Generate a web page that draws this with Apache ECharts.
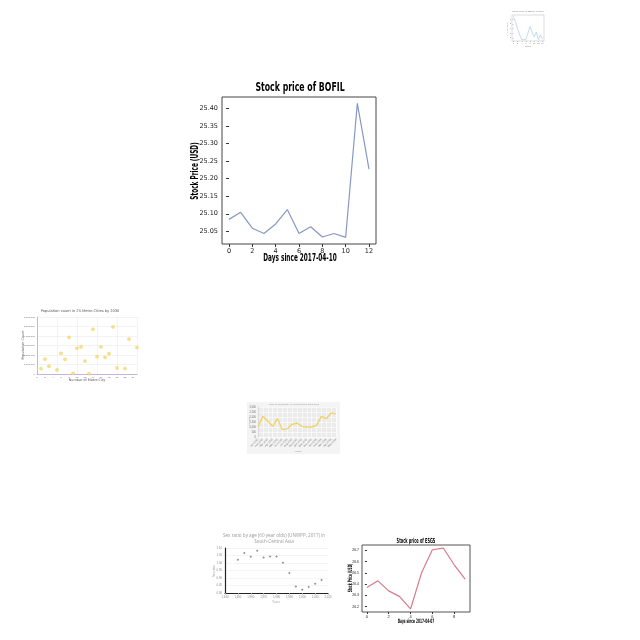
<!DOCTYPE html>
<html><head><meta charset="utf-8">
<script src="https://cdn.jsdelivr.net/npm/echarts@6/dist/echarts.min.js"></script>
<style>html,body{margin:0;padding:0;background:#fff}#c{width:640px;height:640px}</style>
</head><body><div id="c"></div>
<script>
// ---- data ----
const bofilDays = [0,1,2,3,4,5,6,7,8,9,10,11,12];
const bofilPrices = [25.084,25.104,25.059,25.044,25.071,25.112,25.044,25.063,25.034,25.044,25.033,25.414,25.227];
const bofilYTicks = [25.05,25.10,25.15,25.20,25.25,25.30,25.35,25.40];
const bofilXTicks = [0,2,4,6,8,10,12];

const esgsDays = [0,1,2,3,4,5,6,7,8,9];
const esgsPrices = [26.370,26.429,26.340,26.289,26.179,26.498,26.706,26.721,26.572,26.444];
const esgsYTicks = [26.2,26.3,26.4,26.5,26.6,26.7];
const esgsXTicks = [0,2,4,6,8];

const miniDays = [0,1,2,3,4,5,6,7,8,9,10,11,12,13,14];
const miniValues = [9.6,8.4,6.9,5.6,4.6,4.6,4.6,6.0,7.4,6.2,5.2,6.2,4.6,5.6,4.7];

const popCity = [1,2,3,5,6,7,8,9,10,11,12,13,14,15,16,17,18,19,20,22,23,25];
const popCount = [570000,1570000,820000,430000,2180000,1540000,3860000,70000,2710000,2860000,1360000,40000,4710000,1820000,2860000,1750000,2140000,4960000,640000,570000,3680000,2790000];

const sexYears = [1950,1955,1960,1965,1970,1975,1980,1985,1990,1995,2000,2005,2010,2015];
const sexRatio = [1.022,1.067,1.042,1.082,1.036,1.044,1.044,1.002,0.933,0.844,0.822,0.840,0.862,0.887];

const yellowLabels = ['Jan 2015','Feb 2015','Mar 2015','Apr 2015','May 2015','Jun 2015','Jul 2015','Aug 2015','Sep 2015','Oct 2015','Nov 2015','Dec 2015','Jan 2016','Feb 2016','Mar 2016','Apr 2016','May 2016'];
const yellowValues = [1000,2067,1600,1067,1833,733,833,1267,1400,1067,1000,1000,1167,2067,1833,2400,2333];

// ---- chart ----
const chart = echarts.init(document.getElementById('c'), null, {renderer:'canvas'});
const heavy = "'DejaVu Sans', sans-serif";
function txt(x,y,text,font,fill,rot,sx){
  return {type:'text', x:x, y:y, rotation: rot||0, scaleX: sx||1,
    style:{text:text, font:font, fill:fill||'#000', textAlign:'center', textVerticalAlign:'middle'}};
}
const option = {
  animation:false,
  backgroundColor:'#fff',
  grid:[
    {left:222, top:97, width:154, height:147, show:true, borderColor:'#444', borderWidth:1, containLabel:false},
    {left:512, top:15, width:32, height:26, show:true, borderColor:'#bbb', borderWidth:0.5},
    {left:37, top:317, width:100, height:57},
    {left:258, top:407, width:78, height:30, show:true, backgroundColor:'#ebebeb', borderWidth:0},
    {left:225, top:548, width:103, height:45},
    {left:362, top:545, width:108, height:67, show:true, borderColor:'#555', borderWidth:1}
  ],
  xAxis:[
    {gridIndex:0, type:'value', min:-0.6, max:12.6, splitLine:{show:false},
      axisLine:{show:false}, axisTick:{customValues:bofilXTicks, length:3, lineStyle:{color:'#333'}},
      axisLabel:{customValues:bofilXTicks, fontSize:6.5, color:'#222', margin:4, fontFamily:'DejaVu Sans'}},
    {gridIndex:1, type:'value', min:-0.7, max:14.7, splitLine:{show:false}, axisLine:{show:false},
      axisTick:{customValues:[0,2,4,6,8,10,12,14], length:1, lineStyle:{color:'#999', width:0.5}},
      axisLabel:{customValues:[0,2,4,6,8,10,12,14], fontSize:2, color:'#777', margin:1}},
    {gridIndex:2, type:'value', min:0, max:25, splitLine:{show:true, lineStyle:{color:'#e6e6e6', width:0.5}},
      axisLine:{show:true, lineStyle:{color:'#c9b3e3', width:1}}, axisTick:{show:false},
      axisLabel:{customValues:[0,2,4,6,8,10,12,14,16,18,20,22,24], fontSize:2.5, color:'#666', margin:2}},
    {gridIndex:3, type:'category', data:yellowLabels, boundaryGap:false,
      splitLine:{show:true, lineStyle:{color:'#ffffff', width:0.6}},
      axisLine:{show:false}, axisTick:{show:false},
      axisLabel:{fontSize:2.6, color:'#777', rotate:45, margin:2, interval:0}},
    {gridIndex:4, type:'value', min:1940, max:2020, interval:10, splitLine:{show:false},
      axisLine:{show:true, lineStyle:{color:'#222', width:1.2}}, axisTick:{show:true, length:1.5, lineStyle:{color:'#999'}},
      axisLabel:{fontSize:2.8, color:'#888', margin:3}},
    {gridIndex:5, type:'value', min:-0.45, max:9.45, splitLine:{show:false}, axisLine:{show:false},
      axisTick:{customValues:esgsXTicks, length:2, lineStyle:{color:'#333'}},
      axisLabel:{customValues:esgsXTicks, fontSize:4, color:'#222', margin:3}}
  ],
  yAxis:[
    {gridIndex:0, type:'value', min:25.014, max:25.432, splitLine:{show:false}, axisLine:{show:false},
      axisTick:{customValues:bofilYTicks, length:3, lineStyle:{color:'#333'}},
      axisLabel:{customValues:bofilYTicks, fontSize:6.5, color:'#222', margin:4, fontFamily:'DejaVu Sans',
        formatter:v=>v.toFixed(2)}},
    {gridIndex:1, type:'value', min:4.3, max:9.9, splitLine:{show:false}, axisLine:{show:false},
      axisTick:{customValues:[5,6,7,8,9], length:1, lineStyle:{color:'#999', width:0.5}},
      axisLabel:{customValues:[5,6,7,8,9], fontSize:2, color:'#777', margin:1}},
    {gridIndex:2, type:'value', min:0, max:6000000, interval:1000000,
      splitLine:{show:true, lineStyle:{color:'#e6e6e6', width:0.5}},
      axisLine:{show:true, lineStyle:{color:'#c9b3e3', width:1}}, axisTick:{show:false},
      axisLabel:{fontSize:2.5, color:'#666', margin:2}},
    {gridIndex:3, type:'value', min:0, max:3000, interval:500,
      splitLine:{show:true, lineStyle:{color:'#ffffff', width:0.6}},
      axisLine:{show:true, lineStyle:{color:'#bbb', width:0.5}}, axisTick:{show:false},
      axisLabel:{fontSize:2.6, color:'#777', margin:2}},
    {gridIndex:4, type:'value', min:0.80, max:1.10, interval:0.05,
      splitLine:{show:true, lineStyle:{color:'#e8e8e8', width:0.5}},
      axisLine:{show:true, lineStyle:{color:'#222', width:1.2}}, axisTick:{show:false},
      axisLabel:{fontSize:2.8, color:'#888', margin:3, formatter:v=>v.toFixed(2)}},
    {gridIndex:5, type:'value', min:26.152, max:26.748, splitLine:{show:false}, axisLine:{show:false},
      axisTick:{customValues:esgsYTicks, length:2, lineStyle:{color:'#333'}},
      axisLabel:{customValues:esgsYTicks, fontSize:3.5, color:'#222', margin:3, formatter:v=>v.toFixed(1)}}
  ],
  series:[
    {type:'line', xAxisIndex:0, yAxisIndex:0, data:bofilDays.map((d,i)=>[d,bofilPrices[i]]),
      showSymbol:false, lineStyle:{color:'#8797c6', width:1.2}},
    {type:'line', xAxisIndex:1, yAxisIndex:1, data:miniDays.map((d,i)=>[d,miniValues[i]]),
      showSymbol:false, lineStyle:{color:'#9fc3dd', width:0.6}},
    {type:'scatter', xAxisIndex:2, yAxisIndex:2, data:popCity.map((d,i)=>[d,popCount[i]]),
      symbolSize:3.2, itemStyle:{color:'#f8da70', borderColor:'#ecc54a', borderWidth:0.4}},
    {type:'line', xAxisIndex:3, yAxisIndex:3, data:yellowValues,
      showSymbol:false, lineStyle:{color:'#efd36b', width:1.4}},
    {type:'scatter', xAxisIndex:4, yAxisIndex:4, data:sexYears.map((d,i)=>[d,sexRatio[i]]),
      symbol:'diamond', symbolSize:2.5, itemStyle:{color:'#777'}},
    {type:'line', xAxisIndex:5, yAxisIndex:5, data:esgsDays.map((d,i)=>[d,esgsPrices[i]]),
      showSymbol:false, lineStyle:{color:'#d97b88', width:1.2}}
  ],
  graphic:[
    {type:'rect', z:-10, shape:{x:247,y:402,width:93,height:52}, style:{fill:'#f4f4f4'}},
    // main chart texts
    txt(300,88,'Stock price of BOFIL',"bold 13px "+heavy,'#000',0,0.6),
    txt(300,258,'Days since 2017-04-10',"bold 10.5px "+heavy,'#000',0,0.55),
    txt(195,171,'Stock Price (USD)',"bold 10.5px "+heavy,'#000',Math.PI/2,0.55),
    // mini chart
    txt(528,11,'Stock price of BBRG in 2016',"2.5px sans-serif",'#888'),
    txt(528,46,'Days',"2.5px sans-serif",'#888'),
    txt(507,28,'Price (USD)',"2px sans-serif",'#888',Math.PI/2),
    // population
    txt(80,311,'Population count in 25 Metro Cities by 2030',"3.6px 'DejaVu Sans'",'#555'),
    txt(87,380,'Number of Metro City',"3.4px 'DejaVu Sans'",'#555'),
    txt(23,345,'Population Count',"3.4px 'DejaVu Sans'",'#555',Math.PI/2),
    // yellow
    txt(294,404,'Price of commodity by month during 2015-2016',"2.4px sans-serif",'#999'),
    txt(298,451,'Month',"2.4px sans-serif",'#999'),
    txt(249,422,'Price (USD)',"2.2px sans-serif",'#999',Math.PI/2),
    // sex ratio
    txt(274,536,'Sex ratio by age (60 year olds) (UNWPP, 2017) in',"4.6px 'Open Sans'",'#999'),
    txt(274,542,'South-Central Asia',"4.6px 'Open Sans'",'#999'),
    txt(276,602,'Years',"3px 'Open Sans'",'#999'),
    txt(214,571,'Sex ratio',"3px 'Open Sans'",'#999',Math.PI/2),
    // esgs
    txt(416,541,'Stock price of ESGS',"bold 7px "+heavy,'#000',0,0.5),
    txt(416,621,'Days since 2017-04-07',"bold 6px "+heavy,'#000',0,0.48),
    txt(350,578,'Stock Price (USD)',"bold 6px "+heavy,'#000',Math.PI/2,0.48)
  ]
};
chart.setOption(option);
</script>
</body></html>
